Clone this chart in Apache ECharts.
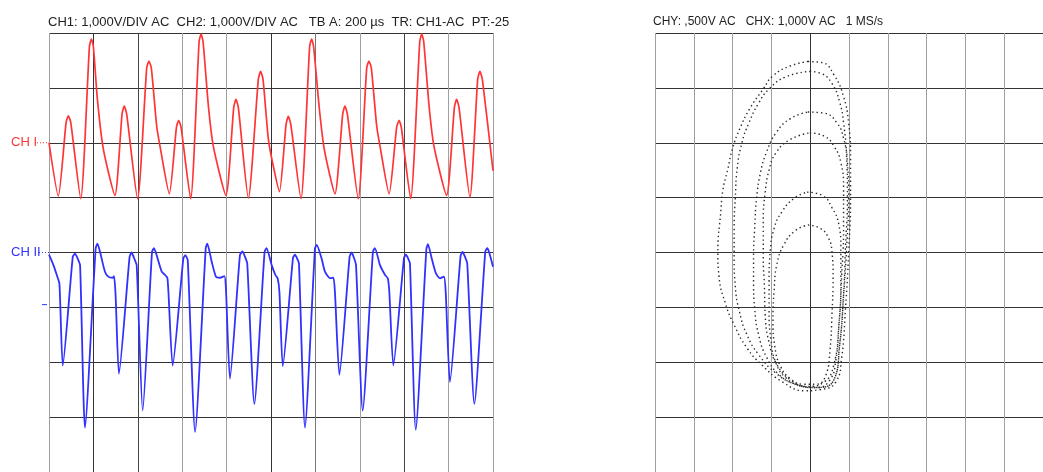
<!DOCTYPE html>
<html><head><meta charset="utf-8">
<script src="https://cdn.jsdelivr.net/npm/echarts@6/dist/echarts.min.js"></script>
<style>html,body{margin:0;padding:0;background:#fff}#c{width:1043px;height:472px}</style>
</head><body><div id="c"></div>
<script>
// ---- Titles / labels ----
const titleLeft = 'CH1: 1,000V/DIV AC  CH2: 1,000V/DIV AC   TB A: 200 µs  TR: CH1-AC  PT:-25';
const titleRight = 'CHY: ,500V AC   CHX: 1,000V AC   1 MS/s';
const ch1Label = 'CH I';
const ch2Label = 'CH II';

// ---- CH1 (red), time in µs, volts ----
const ch1Time = [0,42,77,87,98,143,182,191,200,218,245,297,329,339,350,399,440,450,461,485,500,542,574,584,595,638,676,685,694,718,740,797,832,842,853,898,943,953,964,988,1010,1038,1068,1078,1089,1135,1174,1183,1192,1218,1240,1288,1323,1333,1344,1393,1431,1441,1452,1476,1491,1532,1566,1577,1587,1629,1670,1679,1688,1712,1734,1791,1826,1836,1847,1896,1931,1941,1952,2000];
const ch1Volts = [0.00,-0.97,0.37,0.49,0.37,-1.02,1.75,1.89,1.75,0.79,-0.12,-0.96,0.52,0.67,0.52,-1.02,1.36,1.49,1.36,0.31,-0.06,-0.93,0.28,0.41,0.28,-1.02,1.84,1.98,1.84,0.67,-0.06,-0.96,0.64,0.79,0.64,-1.01,1.16,1.30,1.16,0.07,-0.42,-0.89,0.34,0.48,0.34,-1.02,1.75,1.89,1.75,0.61,-0.12,-0.93,0.52,0.67,0.52,-1.02,1.36,1.49,1.36,0.31,-0.06,-0.93,0.28,0.41,0.28,-1.02,1.84,1.98,1.84,0.67,-0.06,-0.96,0.64,0.79,0.64,-0.99,1.16,1.30,1.16,-0.51];

// ---- CH2 (blue) ----
const ch2Time = [0,20,35,47,62,107,117,128,140,162,210,218,230,252,267,287,293,300,315,363,372,383,395,422,464,473,485,508,523,533,538,557,605,614,625,658,706,713,733,752,770,790,797,815,860,871,883,893,925,971,980,1003,1020,1030,1038,1053,1099,1108,1119,1126,1153,1198,1206,1228,1243,1266,1281,1288,1308,1354,1363,1374,1383,1413,1459,1468,1491,1514,1526,1533,1551,1599,1608,1619,1626,1652,1700,1707,1724,1743,1761,1779,1787,1806,1854,1863,1874,1884,1916,1965,1974,1983,2000];
const ch2Volts = [-0.04,-0.23,-0.41,-0.57,-2.06,-0.08,-0.02,-0.10,-0.23,-3.19,0.07,0.16,0.01,-0.35,-0.44,-0.46,-0.43,-0.78,-2.21,-0.08,0.00,-0.10,-0.23,-2.88,0.01,0.08,-0.05,-0.35,-0.41,-0.46,-0.72,-2.06,-0.11,-0.05,-0.14,-3.27,0.08,0.16,-0.17,-0.44,-0.46,-0.43,-0.66,-2.30,-0.05,0.02,-0.08,-0.20,-2.76,0.01,0.08,-0.23,-0.41,-0.47,-0.72,-2.07,-0.10,-0.04,-0.12,-0.20,-3.19,0.07,0.14,-0.11,-0.35,-0.47,-0.46,-0.72,-2.23,-0.08,0.00,-0.10,-0.23,-2.88,0.01,0.08,-0.23,-0.41,-0.47,-0.72,-2.06,-0.10,-0.04,-0.12,-0.20,-3.23,0.07,0.15,-0.11,-0.38,-0.47,-0.44,-0.72,-2.36,-0.06,0.01,-0.08,-0.20,-2.76,0.01,0.08,0.00,-0.26];
const ch2Marker = -0.95;

// ---- XY display loops [CHX V, CHY V] ----
const loopA = [[-0.06,1.74],[0.31,1.73],[0.61,1.62],[0.86,1.42],[0.99,1.18],[1.04,0.86],[1.04,0.50],[0.99,-0.01],[0.91,-0.51],[0.81,-0.96],[0.66,-1.18],[0.24,-1.25],[-0.13,-1.26],[-0.71,-1.18],[-1.26,-1.02],[-1.63,-0.87],[-1.96,-0.66],[-2.18,-0.47],[-2.35,-0.22],[-2.38,-0.01],[-2.30,0.39],[-2.25,0.57],[-2.13,0.75],[-2.00,0.95],[-1.81,1.13],[-1.56,1.31],[-1.21,1.49],[-0.96,1.61],[-0.51,1.70],[-0.06,1.74]];
const loopB = [[-0.01,1.65],[0.29,1.63],[0.56,1.54],[0.76,1.37],[0.86,1.18],[0.94,0.86],[0.96,0.50],[0.91,0.05],[0.86,-0.39],[0.76,-0.84],[0.61,-1.16],[0.11,-1.23],[-0.38,-1.20],[-0.88,-1.10],[-1.33,-0.93],[-1.63,-0.75],[-1.83,-0.53],[-1.93,-0.31],[-1.96,-0.04],[-1.96,0.23],[-1.93,0.50],[-1.88,0.77],[-1.76,1.00],[-1.58,1.18],[-1.33,1.36],[-1.06,1.49],[-0.63,1.60],[-0.01,1.65]];
const loopC = [[-0.06,1.28],[0.36,1.27],[0.69,1.18],[0.86,1.04],[0.96,0.82],[0.99,0.50],[0.94,0.05],[0.86,-0.39],[0.76,-0.84],[0.61,-1.16],[0.11,-1.23],[-0.38,-1.20],[-0.81,-1.11],[-1.13,-0.95],[-1.33,-0.75],[-1.43,-0.51],[-1.46,-0.26],[-1.46,-0.04],[-1.43,0.23],[-1.38,0.50],[-1.28,0.73],[-1.13,0.91],[-0.88,1.09],[-0.51,1.22],[-0.06,1.28]];
const loopD = [[-0.01,1.09],[0.36,1.06],[0.61,0.97],[0.79,0.82],[0.86,0.59],[0.86,0.23],[0.81,-0.22],[0.74,-0.66],[0.61,-1.02],[0.36,-1.18],[-0.08,-1.22],[-0.51,-1.16],[-0.86,-1.02],[-1.06,-0.82],[-1.16,-0.57],[-1.18,-0.31],[-1.21,-0.04],[-1.21,0.28],[-1.16,0.55],[-1.06,0.75],[-0.88,0.91],[-0.51,1.03],[-0.01,1.09]];
const loopE = [[-0.08,0.55],[0.31,0.52],[0.56,0.41],[0.74,0.25],[0.79,0.05],[0.79,-0.31],[0.74,-0.66],[0.66,-0.98],[0.51,-1.16],[0.16,-1.23],[-0.26,-1.21],[-0.63,-1.14],[-0.88,-1.01],[-1.01,-0.80],[-1.06,-0.53],[-1.06,-0.26],[-1.03,0.01],[-0.93,0.22],[-0.73,0.37],[-0.43,0.49],[-0.08,0.55]];
const loopF = [[-0.06,0.25],[0.26,0.22],[0.46,0.14],[0.56,0.01],[0.59,-0.22],[0.56,-0.57],[0.51,-0.89],[0.41,-1.11],[0.16,-1.20],[-0.18,-1.20],[-0.51,-1.15],[-0.76,-1.04],[-0.91,-0.86],[-0.96,-0.62],[-0.93,-0.35],[-0.86,-0.11],[-0.68,0.07],[-0.38,0.20],[-0.06,0.25]];
const xyLoops = [loopA, loopB, loopC, loopD, loopE, loopF];

const FONT = '"Liberation Sans", Arial, sans-serif';
const RED = '#ff3434', BLUE = '#3030ff', DARK = '#333', GRAY = '#a0a0a0';

const chart = echarts.init(document.getElementById('c'), null, {renderer: 'canvas'});

function zip(a, b) { return a.map((v, i) => [v, b[i]]); }

const hidden = {axisLine: {show: false}, axisTick: {show: false}, axisLabel: {show: false}};

const option = {
  animation: false,
  backgroundColor: '#fff',
  grid: [
    {left: 49, top: 33, width: 444, height: 441.5, containLabel: false},
    {left: 655, top: 33, width: 401, height: 445.6, containLabel: false}
  ],
  xAxis: [
    Object.assign({type: 'value', gridIndex: 0, min: 0, max: 2000, interval: 200,
      splitLine: {show: true, lineStyle: {width: 1, color: [GRAY, DARK, '#444', GRAY, GRAY, DARK, '#777', GRAY, '#444', GRAY, GRAY]}}}, hidden),
    Object.assign({type: 'value', gridIndex: 1, min: -4, max: 6, interval: 1,
      splitLine: {show: true, lineStyle: {width: 1, color: [GRAY, GRAY, GRAY, GRAY, DARK, GRAY, GRAY, GRAY, GRAY, GRAY, GRAY]}}}, hidden)
  ],
  yAxis: [
    Object.assign({type: 'value', gridIndex: 0, min: -6, max: 2, interval: 1,
      splitLine: {show: true, lineStyle: {width: 1, color: DARK}}}, hidden),
    Object.assign({type: 'value', gridIndex: 0, min: -4, max: 4, interval: 1, splitLine: {show: false}}, hidden),
    Object.assign({type: 'value', gridIndex: 1, min: -2, max: 2, interval: 0.5,
      splitLine: {show: true, lineStyle: {width: 1, color: DARK}}}, hidden)
  ],
  series: [
    {type: 'line', xAxisIndex: 0, yAxisIndex: 0, data: zip(ch1Time, ch1Volts), showSymbol: false, smooth: 0.2,
      lineStyle: {color: RED, width: 1.7}, clip: true, z: 5},
    {type: 'line', xAxisIndex: 0, yAxisIndex: 1, data: zip(ch2Time, ch2Volts), showSymbol: false, smooth: 0.2,
      lineStyle: {color: BLUE, width: 1.8}, clip: true, z: 5}
  ].concat(xyLoops.map(l => ({
    type: 'line', xAxisIndex: 1, yAxisIndex: 2, data: l, showSymbol: false, smooth: 0.5,
    lineStyle: {color: '#2a2a2a', width: 1.4, type: [1.4, 3]}, z: 5
  })))
};
chart.setOption(option);

const gx0 = chart.convertToPixel({xAxisIndex: 0}, 0);
const y1 = chart.convertToPixel({yAxisIndex: 0}, 0);
const y2 = chart.convertToPixel({yAxisIndex: 1}, 0);
const yM = chart.convertToPixel({yAxisIndex: 1}, ch2Marker);
const gx1 = chart.convertToPixel({xAxisIndex: 1}, -4);

chart.setOption({
  graphic: [
    {type: 'text', x: gx0 - 1, y: 22, style: {text: titleLeft, fill: '#222', font: '13px ' + FONT, verticalAlign: 'middle'}},
    {type: 'text', x: gx1 - 2, y: 22, style: {text: titleRight, fill: '#222', font: '12px ' + FONT, verticalAlign: 'middle'}},
    {type: 'text', x: 11, y: y1, style: {text: ch1Label, fill: RED, font: '13px ' + FONT, verticalAlign: 'middle'}},
    {type: 'line', shape: {x1: 37, y1: y1, x2: gx0, y2: y1}, style: {stroke: RED, lineWidth: 1, lineDash: [1, 2]}},
    {type: 'text', x: 11, y: y2, style: {text: ch2Label, fill: BLUE, font: '13px ' + FONT, verticalAlign: 'middle'}},
    {type: 'line', shape: {x1: 39, y1: y2, x2: gx0, y2: y2}, style: {stroke: BLUE, lineWidth: 1, lineDash: [1, 2]}},
    {type: 'line', shape: {x1: 42, y1: yM, x2: 47, y2: yM}, style: {stroke: BLUE, lineWidth: 1}}
  ]
});
</script>
</body></html>
